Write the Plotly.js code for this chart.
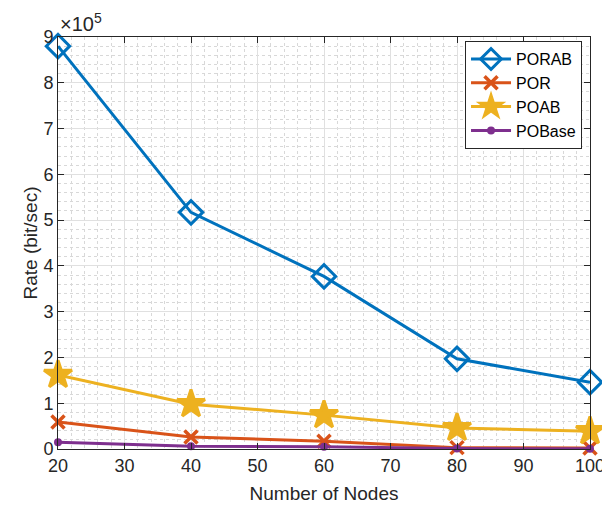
<!DOCTYPE html>
<html><head><meta charset="utf-8">
<script src="https://cdn.plot.ly/plotly-3.0.1.min.js"></script>
<style>body{margin:0;padding:0;background:#fff}#chart{width:602px;height:509px}</style>
</head><body><div id="chart"></div>
<script>
const nodes = [20, 40, 60, 80, 100];
const porab = [8.80, 5.17, 3.77, 1.97, 1.46];
const por = [0.59, 0.26, 0.17, 0.03, 0.02];
const poab = [1.62, 0.98, 0.74, 0.46, 0.39];
const pobase = [0.15, 0.06, 0.05, 0.01, 0.005];
const seriesNames = ['PORAB', 'POR', 'POAB', 'POBase'];
const scale = 1e5;

const colors = ['#0072BD', '#D95319', '#EDB120', '#7E2F8E'];
const symbols = ['diamond-open', 'x-thin-open', 'star', 'circle'];
const sizes = [18, 13, 21, 5];
const data = [porab, por, poab, pobase].map((v, i) => ({
  x: nodes, y: v.map(d => d * scale), name: seriesNames[i], type: 'scatter', mode: 'lines+markers',
  cliponaxis: false,
  line: {color: colors[i], width: 3},
  marker: {symbol: symbols[i], size: sizes[i], color: colors[i], line: {color: colors[i], width: i === 1 ? 3.5 : 3}}
}));

const fam = 'Liberation Sans, Arial, sans-serif';
const tickfont = {family: fam, size: 18, color: '#262626'};
const layout = {
  width: 602, height: 509,
  margin: {l: 58, r: 12, t: 37, b: 60},
  paper_bgcolor: '#fff', plot_bgcolor: '#fff',
  font: {family: fam, size: 18, color: '#262626'},
  showlegend: true,
  legend: {x: 0.985, y: 0.99, xanchor: 'right', yanchor: 'top', bgcolor: '#fff', bordercolor: '#262626', borderwidth: 1, font: {family: fam, size: 16, color: '#000'}, tracegroupgap: 0, itemwidth: 40},
  xaxis: {
    range: [20, 100], tickvals: [20, 30, 40, 50, 60, 70, 80, 90, 100], tickfont: tickfont, ticklabeloverflow: 'allow',
    ticks: 'inside', ticklen: 6, tickcolor: '#262626', showline: true, linecolor: '#262626', mirror: 'ticks',
    showgrid: true, gridcolor: '#e0e0e0', gridwidth: 1, zeroline: false,
    minor: {dtick: 2, showgrid: true, gridcolor: '#d8d8d8', griddash: 'dot', gridwidth: 1},
    title: {text: 'Number of Nodes', font: {family: fam, size: 19, color: '#262626'}, standoff: 12}
  },
  yaxis: {
    range: [0, 9e5], tickvals: [0,1,2,3,4,5,6,7,8,9].map(d => d * scale), ticktext: ['0','1','2','3','4','5','6','7','8','9'],
    tickfont: tickfont, ticklabeloverflow: 'allow',
    ticks: 'inside', ticklen: 6, tickcolor: '#262626', showline: true, linecolor: '#262626', mirror: 'ticks',
    showgrid: true, gridcolor: '#e0e0e0', gridwidth: 1, zeroline: false,
    minor: {dtick: 0.2 * scale, showgrid: true, gridcolor: '#d8d8d8', griddash: 'dot', gridwidth: 1},
    title: {text: 'Rate (bit/sec)', font: {family: fam, size: 19, color: '#262626'}, standoff: 0}
  },
  annotations: [{xref: 'paper', yref: 'paper', x: 0, y: 1, xanchor: 'left', yanchor: 'bottom', yshift: 0, showarrow: false,
    text: '×10<sup>5</sup>', font: {family: fam, size: 20, color: '#262626'}}]
};
Plotly.newPlot('chart', data, layout, {displayModeBar: false, staticPlot: true});
</script></body></html>
